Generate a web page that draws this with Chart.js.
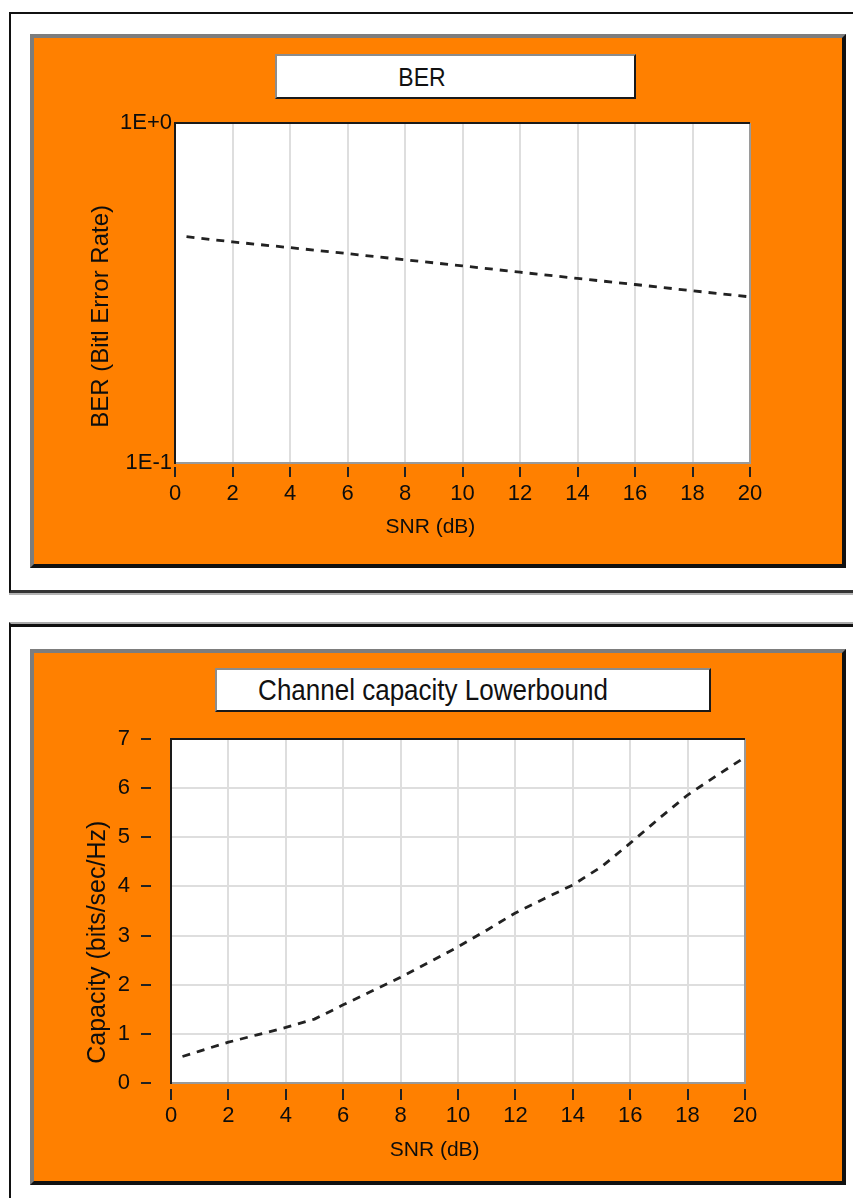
<!DOCTYPE html>
<html>
<head>
<meta charset="utf-8">
<title>BER / Channel capacity</title>
<script src="https://cdn.jsdelivr.net/npm/chart.js@4.4.1/dist/chart.umd.min.js"></script>
<style>
  html, body { margin: 0; padding: 0; background: #fff; }
  body { position: relative; width: 853px; height: 1198px; overflow: hidden;
         font-family: 'Liberation Sans', Arial, sans-serif; color: #111; }
  .frame { position: absolute; box-sizing: border-box; background: #fff; }
  #frame1 { left: 9px; top: 12px; width: 870px; height: 581px;
            border-top: 2px solid #111; border-left: 2px solid #111; border-bottom: 3px solid #333;
            box-shadow: 0 2px 0 #b4b4b4; }
  #frame2 { left: 9px; top: 622px; width: 870px; height: 600px;
            border-top: 2px solid #ababab; border-left: 2px solid #111;
            box-shadow: inset 0 3px 0 #111; }
  .panel { position: absolute; box-sizing: border-box; background: #ff8000;
           border-top: 4px solid #7d7d7d; border-left: 4px solid #7d7d7d;
           border-right: 4px solid #111; border-bottom: 4px solid #111; }
  #panel1 { left: 30px; top: 34px; width: 816px; height: 534px; }
  #panel2 { left: 30px; top: 649px; width: 816px; height: 536px; }
  .titlebox { position: absolute; box-sizing: border-box; background: #fff;
              border-top: 2px solid #8c8c8c; border-left: 2px solid #8c8c8c;
              border-right: 2px solid #1a1a1a; border-bottom: 2px solid #1a1a1a; }
  #tb1 { left: 275px; top: 54px; width: 361px; height: 45px; }
  #tb2 { left: 215px; top: 668px; width: 496px; height: 44px; }
  .titletext { position: absolute; white-space: nowrap; line-height: 1;
               transform: translate(-50%, -50%) scaleY(1.12); color: #111; }
  #tt1 { left: 422px; top: 78px; font-size: 23px; }
  #tt2 { left: 433px; top: 690px; font-size: 26px; }
  canvas { position: absolute; }
  #berChart { left: 30px; top: 35px; }
  #capChart { left: 30px; top: 650px; }
</style>
</head>
<body>
<div class="frame" id="frame1"></div>
<div class="frame" id="frame2"></div>
<div class="panel" id="panel1"></div>
<div class="panel" id="panel2"></div>
<div class="titlebox" id="tb1"></div>
<div class="titlebox" id="tb2"></div>
<div class="titletext" id="tt1"></div>
<div class="titletext" id="tt2"></div>
<canvas id="berChart" width="815" height="532"></canvas>
<canvas id="capChart" width="815" height="530"></canvas>

<script>
// --- data ---
const berTitle = 'BER';
const berXTitle = 'SNR (dB)';
const berYTitle = 'BER (Bitl Error Rate)';
const berSnr = [0.4, 2, 4, 6, 8, 10, 12, 14, 16, 18, 20];
const berValues = [0.463, 0.447, 0.430, 0.413, 0.396, 0.380, 0.364, 0.349, 0.335, 0.321, 0.308];
const berTickValues = [0.1, 1];
const berTickLabels = ['1E-1', '1E+0'];

const capTitle = 'Channel capacity Lowerbound';
const capXTitle = 'SNR (dB)';
const capYTitle = 'Capacity (bits/sec/Hz)';
const capSnr = [0.4, 1, 2, 3, 4, 5, 6, 7, 8, 9, 10, 11, 12, 13, 14, 15, 16, 17, 18, 19, 20];
const capValues = [0.54, 0.65, 0.83, 0.98, 1.13, 1.30, 1.59, 1.87, 2.15, 2.46, 2.77,
                   3.11, 3.46, 3.75, 4.03, 4.40, 4.88, 5.38, 5.86, 6.25, 6.63];

document.getElementById('tt1').textContent = berTitle;
document.getElementById('tt2').textContent = capTitle;

Chart.defaults.font.family = "'Liberation Sans', Arial, sans-serif";
Chart.defaults.color = '#0d0d0d';

// white plot area with a sunken border: dark top/left, grey bottom/right
const plotFrame = {
  id: 'plotFrame',
  beforeDraw(chart) {
    const {ctx, chartArea: a} = chart;
    ctx.save();
    ctx.fillStyle = '#fff';
    ctx.fillRect(a.left, a.top, a.right - a.left, a.bottom - a.top);
    ctx.restore();
  },
  afterDraw(chart) {
    const {ctx, chartArea: a} = chart;
    ctx.save();
    ctx.lineWidth = 2;
    ctx.strokeStyle = '#9a9a9a';
    ctx.beginPath();
    ctx.moveTo(a.left, a.bottom);
    ctx.lineTo(a.right, a.bottom);
    ctx.lineTo(a.right, a.top);
    ctx.stroke();
    ctx.strokeStyle = '#1a1a1a';
    ctx.beginPath();
    ctx.moveTo(a.left, a.bottom + 1);
    ctx.lineTo(a.left, a.top);
    ctx.lineTo(a.right, a.top);
    ctx.stroke();
    ctx.restore();
  }
};

function lineDataset(xs, ys) {
  return {
    data: xs.map((x, i) => ({x: x, y: ys[i]})),
    borderColor: '#222',
    borderWidth: 2.8,
    borderDash: [8, 7],
    pointRadius: 0,
    fill: false,
    tension: 0
  };
}

new Chart(document.getElementById('berChart'), {
  type: 'line',
  data: { datasets: [lineDataset(berSnr, berValues)] },
  plugins: [plotFrame],
  options: {
    responsive: false,
    animation: false,
    events: [],
    layout: { padding: { top: 88, right: 95, bottom: 0, left: 0 } },
    plugins: { legend: { display: false }, tooltip: { enabled: false } },
    scales: {
      x: {
        type: 'linear', min: 0, max: 20,
        afterFit: (s) => { s.height = 104; },
        border: { display: false },
        grid: { color: '#dedede', lineWidth: 2, tickColor: '#222', tickWidth: 2,
                tickLength: 14, tickBorderDash: [0, 4, 10, 100] },
        ticks: { stepSize: 2, padding: 4, font: { size: 22 }, maxRotation: 0 },
        title: { display: true, text: berXTitle + ' '.repeat(11), font: { size: 21 },
                 padding: { top: 0, bottom: 27 } }
      },
      y: {
        type: 'logarithmic', min: 0.1, max: 1,
        afterFit: (s) => { s.width = 145; },
        afterBuildTicks: (s) => { s.ticks = berTickValues.map(v => ({value: v})); },
        border: { display: false },
        grid: { display: false, drawTicks: false },
        ticks: { padding: 3, font: { size: 22 },
                 callback: (v) => berTickLabels[berTickValues.indexOf(v)] || '' },
        title: { display: true, text: berYTitle + ' '.repeat(7), font: { size: 24 },
                 padding: { top: 57, bottom: 0 } }
      }
    }
  }
});

new Chart(document.getElementById('capChart'), {
  type: 'line',
  data: { datasets: [lineDataset(capSnr, capValues)] },
  plugins: [plotFrame],
  options: {
    responsive: false,
    animation: false,
    events: [],
    layout: { padding: { top: 89, right: 100, bottom: 0, left: 0 } },
    plugins: { legend: { display: false }, tooltip: { enabled: false } },
    scales: {
      x: {
        type: 'linear', min: 0, max: 20,
        afterFit: (s) => { s.height = 97; },
        border: { display: false },
        grid: { color: '#dedede', lineWidth: 2, tickColor: '#222', tickWidth: 2,
                tickLength: 17, tickBorderDash: [0, 6, 11, 100] },
        ticks: { stepSize: 2, padding: 3, font: { size: 22 }, maxRotation: 0 },
        title: { display: true, text: capXTitle + ' '.repeat(8), font: { size: 21 },
                 padding: { top: 0, bottom: 17 } }
      },
      y: {
        type: 'linear', min: 0, max: 7,
        afterFit: (s) => { s.width = 141; },
        border: { display: false },
        grid: { color: '#dedede', lineWidth: 2, tickColor: '#222', tickWidth: 2,
                tickLength: 30, tickBorderDash: [10, 100] },
        ticks: { stepSize: 1, padding: 11, font: { size: 22 } },
        title: { display: true, text: capYTitle + ' '.repeat(9), font: { size: 25 },
                 padding: { top: 53, bottom: 0 } }
      }
    }
  }
});
</script>
</body>
</html>
